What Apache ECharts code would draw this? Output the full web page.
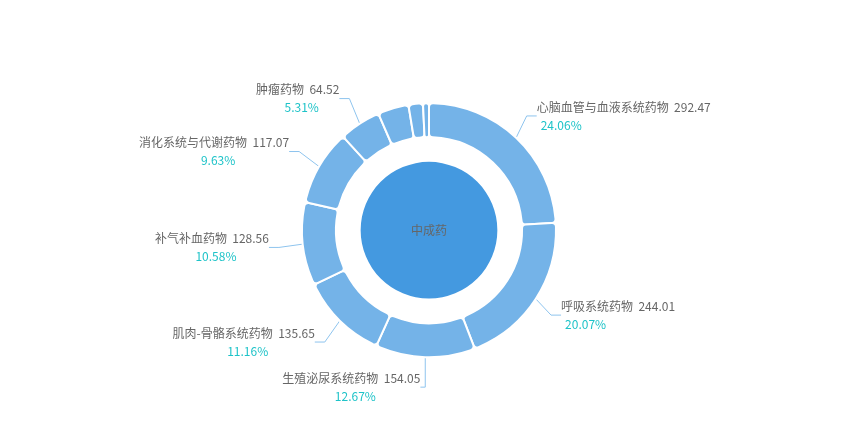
<!DOCTYPE html>
<html>
<head>
<meta charset="utf-8">
<title>中成药</title>
<script src="https://cdn.jsdelivr.net/npm/echarts@6/dist/echarts.min.js"></script>
<style>
  html, body { margin: 0; padding: 0; background: #ffffff; }
  #main { width: 858px; height: 441px; }
</style>
</head>
<body>
<div id="main"></div>
<script>
// 数据
var centerName = '中成药';
var categories = ['心脑血管与血液系统药物', '呼吸系统药物', '生殖泌尿系统药物', '肌肉-骨骼系统药物',
  '补气补血药物', '消化系统与代谢药物', '肿瘤药物', '五官科药物', '皮肤科药物', '其他'];
var values = [292.47, 244.01, 154.05, 135.65, 128.56, 117.07, 64.52, 47.8, 22.3, 9.2];

var ringData = categories.map(function (name, i) {
  var item = { name: name, value: values[i] };
  // 右侧两项百分比靠左，左侧居中
  item.label = {
    rich: {
      per: i < 2 ? { padding: [0, 0, 0, 4] } : { align: 'center', padding: [0, 0, 0, 8] }
    }
  };
  return item;
});

var myChart = echarts.init(document.getElementById('main'));
myChart.setOption({
  series: [
    {
      name: centerName,
      type: 'pie',
      radius: '31%',
      center: ['50%', '52.2%'],
      silent: true,
      label: {
        position: 'center',
        color: '#666666',
        fontSize: 12,
        fontFamily: 'Noto Sans CJK SC'
      },
      labelLine: { show: false },
      itemStyle: { color: '#4499e0' },
      data: [{ name: centerName, value: 1 }]
    },
    {
      name: centerName,
      type: 'pie',
      radius: ['42.2%', '57.6%'],
      center: ['50%', '52.2%'],
      startAngle: 90,
      minShowLabelAngle: 15,
      itemStyle: {
        color: '#74b3e8',
        borderColor: '#ffffff',
        borderWidth: 2,
        borderRadius: 4
      },
      labelLine: {
        length: 30,
        length2: 10,
        lineStyle: { color: '#8ec4ee', width: 1 }
      },
      // 标签放在折点处，引导线重新连接到扇区最近处
      labelLayout: function (params) {
        var pts = params.labelLinePoints;
        if (!pts) return {};
        var isLeft = pts[2][0] < pts[1][0];
        return {
          x: isLeft ? pts[1][0] - 4 : pts[1][0],
          y: pts[1][1],
          align: isLeft ? 'right' : 'left',
          verticalAlign: 'middle'
        };
      },
      label: {
        formatter: '{b|{b}}  {c|{c}}\n{per|{d}%}',
        fontFamily: 'Noto Sans CJK SC',
        rich: {
          b: { color: '#666666', fontSize: 12, lineHeight: 18, fontFamily: 'Noto Sans CJK SC' },
          c: { color: '#666666', fontSize: 12, lineHeight: 18, fontFamily: 'Noto Sans CJK SC' },
          per: { color: '#1ec3c8', fontSize: 12, lineHeight: 18, fontFamily: 'Noto Sans CJK SC' }
        }
      },
      data: ringData
    }
  ]
});
</script>
</body>
</html>
